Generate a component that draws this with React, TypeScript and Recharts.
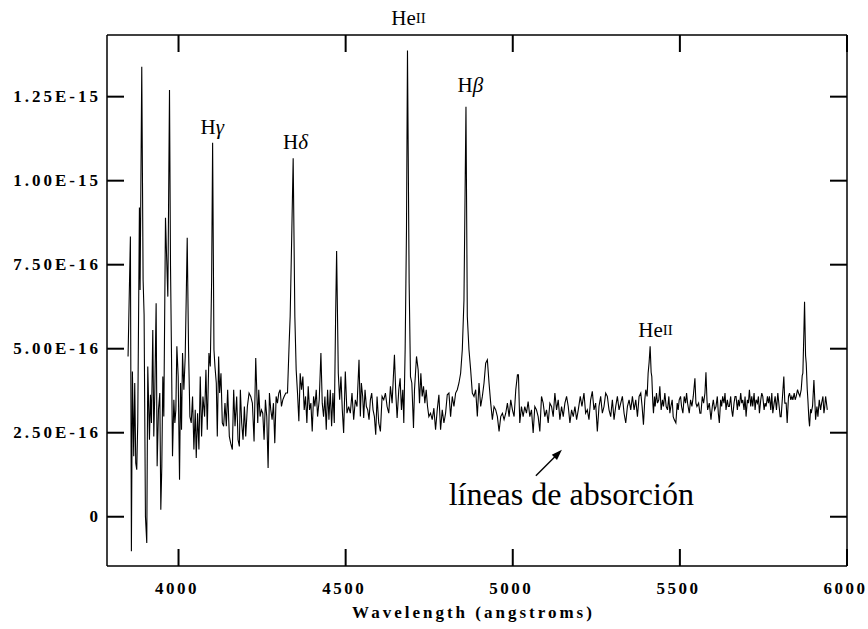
import React from 'react';
import { LineChart, Line, XAxis, YAxis, ReferenceDot } from 'recharts';

// Flux in units of 1e-16 erg/s/cm2/A, wavelength in angstroms
const blueSpectrum: [number, number][] = [
  [3849, 4.77], [3856, 8.34], [3859, -1.03], [3862, 4.32], [3866, 1.8], [3869, 3.98], [3872, 1.6], [3875, 1.4], [3878, 2.8], [3883, 9.2],
  [3885, 6.75], [3890, 13.39], [3894, 7.05], [3897, 6.0], [3901, 0.01], [3905, -0.78], [3908, 4.47], [3913, 2.29], [3916, 3.63], [3919, 2.79],
  [3923, 5.56], [3926, 2.39], [3929, 3.68], [3933, 6.35], [3936, 1.5], [3940, 3.18], [3944, 3.68], [3947, 0.21], [3950, 1.5], [3953, 4.17],
  [3956, 2.98], [3961, 8.9], [3964, 7.85], [3968, 6.55], [3973, 12.7], [3976, 7.47], [3979, 4.77], [3982, 1.8], [3986, 3.48], [3989, 2.79],
  [3992, 3.18], [3995, 5.07], [3999, 4.17], [4003, 1.1], [4006, 3.98], [4009, 2.59], [4012, 4.87], [4016, 3.78], [4020, 4.77], [4023, 6.5],
  [4026, 8.3], [4030, 4.97], [4034, 2.98], [4038, 2.79], [4042, 3.58], [4046, 2.0], [4050, 3.18], [4053, 1.75], [4057, 3.08], [4061, 2.0],
  [4065, 4.17], [4069, 2.39], [4073, 3.58], [4078, 2.98], [4082, 4.37], [4086, 2.59], [4091, 4.87], [4095, 4.47], [4099, 7.0], [4102, 11.13],
  [4106, 4.97], [4109, 4.47], [4113, 3.98], [4116, 2.39], [4120, 4.77], [4123, 3.68], [4127, 4.27], [4131, 2.79], [4135, 2.69], [4139, 3.38],
  [4143, 2.69], [4147, 3.78], [4152, 2.39], [4156, 2.19], [4161, 2.0], [4165, 3.78], [4169, 2.69], [4174, 3.58], [4178, 2.29], [4182, 2.09],
  [4185, 3.78], [4189, 2.79], [4193, 2.29], [4197, 3.28], [4201, 2.39], [4206, 3.28], [4211, 3.68], [4216, 3.58], [4221, 3.38], [4226, 2.24],
  [4231, 4.72], [4234, 3.78], [4237, 2.79], [4240, 3.78], [4244, 2.98], [4248, 3.18], [4252, 3.08], [4256, 2.29], [4260, 3.48], [4264, 2.98],
  [4268, 1.45], [4272, 3.68], [4276, 3.18], [4280, 2.89], [4284, 3.38], [4288, 2.19], [4292, 3.58], [4296, 3.38], [4300, 3.68], [4304, 3.78],
  [4308, 3.28], [4312, 3.48], [4316, 3.58], [4321, 3.68], [4326, 3.68], [4331, 5.16], [4334, 5.96], [4338, 8.0], [4343, 10.67], [4348, 5.96],
  [4352, 4.37], [4356, 3.68], [4360, 2.84], [4364, 4.27], [4368, 3.78], [4372, 4.17], [4376, 3.18], [4380, 3.58], [4384, 2.79], [4388, 3.88],
  [4392, 3.18], [4396, 3.38], [4400, 2.54], [4404, 3.58], [4408, 3.28], [4412, 3.78], [4416, 2.98], [4421, 3.48], [4426, 4.87], [4430, 3.38],
  [4434, 2.98], [4438, 3.58], [4442, 2.59], [4446, 3.78], [4450, 2.89], [4454, 3.78], [4458, 2.69], [4462, 3.68], [4466, 2.79], [4470, 5.96],
  [4473, 7.91], [4478, 4.27], [4482, 3.48], [4486, 4.17], [4490, 3.18], [4494, 2.49], [4499, 4.32], [4504, 3.08], [4509, 3.28],
];

const midSpectrum: [number, number][] = [
  [4514, 3.08], [4519, 3.68], [4524, 2.89], [4529, 3.48], [4534, 3.28], [4540, 4.67], [4544, 2.98], [4547, 3.98], [4551, 3.58], [4554, 2.94],
  [4558, 3.78], [4562, 3.28], [4566, 3.18], [4570, 2.89], [4574, 3.48], [4578, 3.68], [4582, 3.18], [4586, 2.98], [4590, 2.44], [4594, 3.58],
  [4599, 2.79], [4604, 2.54], [4609, 3.58], [4614, 3.48], [4619, 3.68], [4624, 3.28], [4629, 3.08], [4634, 3.88], [4639, 3.38], [4646, 4.82],
  [4650, 3.68], [4654, 2.94], [4659, 3.78], [4663, 4.12], [4667, 3.18], [4671, 3.78], [4674, 2.79], [4678, 4.97], [4682, 8.5], [4685, 13.87],
  [4690, 6.95], [4694, 4.17], [4698, 3.98], [4703, 2.64], [4706, 3.78], [4712, 4.77], [4717, 4.37], [4721, 3.38], [4725, 4.27], [4729, 3.58],
  [4733, 3.88], [4737, 3.38], [4741, 3.78], [4745, 3.28], [4749, 2.98], [4754, 3.08], [4759, 2.89], [4764, 3.23], [4769, 2.59], [4774, 3.18],
  [4779, 3.63], [4784, 2.59], [4789, 3.18], [4794, 2.79], [4799, 3.08], [4804, 3.63], [4809, 3.68], [4814, 2.98], [4819, 3.58], [4824, 3.28],
  [4829, 3.68], [4834, 3.78], [4839, 3.98], [4844, 4.27], [4849, 4.97], [4854, 6.45], [4860, 12.2], [4864, 5.96], [4869, 4.97], [4874, 4.37],
  [4879, 3.68], [4884, 3.58], [4889, 3.78], [4894, 2.98], [4899, 3.98], [4904, 3.28], [4909, 3.58], [4914, 3.98], [4919, 4.57], [4924, 4.67],
  [4929, 3.98], [4934, 3.38], [4939, 2.89], [4944, 3.28], [4949, 3.18], [4954, 2.98], [4959, 2.54], [4964, 2.98], [4969, 3.08], [4974, 2.89],
  [4979, 3.08], [4984, 3.38], [4989, 2.98], [4994, 3.48], [4999, 3.18], [5004, 2.98], [5009, 3.78], [5014, 4.22], [5017, 4.22], [5021, 2.79],
  [5026, 3.28], [5031, 2.98], [5036, 3.28], [5041, 3.08], [5046, 3.43], [5051, 2.98], [5056, 3.18], [5061, 2.49], [5066, 3.28], [5071, 3.18],
  [5076, 2.98], [5081, 2.54], [5086, 3.58], [5091, 3.38], [5096, 2.98], [5101, 3.18], [5106, 2.79], [5111, 3.38], [5116, 3.28], [5121, 2.98],
  [5126, 3.68], [5131, 3.18], [5136, 3.48], [5141, 2.89], [5146, 3.28], [5151, 2.98], [5156, 3.38], [5161, 3.58], [5166, 3.28], [5171, 2.79],
  [5176, 3.18], [5181, 2.98], [5186, 3.28], [5191, 2.89], [5196, 3.18], [5202, 3.58],
];

const redSpectrum: [number, number][] = [
  [5207, 3.28], [5213, 3.68], [5218, 3.08], [5223, 3.18], [5228, 2.89], [5233, 3.48], [5238, 3.73], [5243, 3.18], [5248, 3.38], [5253, 2.54],
  [5258, 3.28], [5263, 3.58], [5268, 3.08], [5273, 3.28], [5278, 3.68], [5283, 3.58], [5288, 3.18], [5293, 2.98], [5298, 3.48], [5303, 2.89],
  [5308, 3.28], [5313, 3.58], [5318, 3.18], [5323, 3.38], [5328, 3.58], [5333, 3.08], [5338, 2.79], [5343, 3.28], [5348, 3.48], [5353, 3.18],
  [5358, 3.58], [5363, 3.18], [5368, 3.48], [5373, 2.98], [5378, 3.58], [5383, 3.68], [5387, 3.28], [5391, 2.74], [5395, 3.48], [5398, 3.78],
  [5402, 3.58], [5405, 4.27], [5408, 4.6], [5411, 5.07], [5414, 4.3], [5416, 4.17], [5419, 3.4], [5421, 3.08], [5424, 3.58], [5426, 3.28],
  [5430, 3.68], [5433, 3.38], [5437, 3.48], [5440, 3.88], [5444, 3.18], [5448, 3.48], [5451, 3.28], [5455, 3.68], [5459, 3.28], [5463, 3.18],
  [5467, 3.58], [5470, 3.08], [5473, 3.28], [5477, 3.48], [5480, 2.98], [5483, 2.89], [5488, 2.79], [5492, 3.38], [5495, 3.18], [5498, 3.48],
  [5502, 3.58], [5505, 3.28], [5509, 3.08], [5513, 3.58], [5517, 3.38], [5520, 3.68], [5523, 3.38], [5528, 3.08], [5532, 3.48], [5536, 3.28],
  [5540, 3.58], [5545, 4.12], [5548, 3.38], [5551, 3.28], [5556, 3.38], [5560, 3.08], [5563, 3.08], [5567, 3.58], [5571, 3.38], [5575, 3.68],
  [5578, 4.3], [5581, 3.48], [5583, 3.18], [5588, 3.38], [5593, 2.89], [5597, 3.28], [5600, 3.48], [5604, 3.18], [5608, 3.28], [5612, 3.58],
  [5615, 3.08], [5618, 2.79], [5622, 3.48], [5625, 3.28], [5628, 3.58], [5632, 3.38], [5635, 3.68], [5638, 3.18], [5642, 3.48], [5645, 3.28],
  [5648, 3.28], [5652, 3.58], [5655, 3.18], [5658, 2.98], [5662, 3.38], [5665, 3.58], [5668, 3.58], [5672, 3.18], [5675, 3.48], [5678, 3.28],
  [5682, 3.68], [5685, 3.38], [5688, 3.48], [5692, 3.18], [5695, 3.58], [5698, 2.98], [5702, 3.48], [5705, 3.38], [5708, 3.78], [5712, 3.28],
  [5715, 3.58], [5718, 3.28], [5722, 3.68], [5725, 3.18], [5728, 3.48], [5732, 3.38], [5735, 3.58], [5738, 3.08], [5742, 3.48], [5745, 3.68],
  [5748, 3.58], [5752, 3.18], [5755, 3.38], [5758, 3.28], [5762, 3.58], [5765, 3.38], [5768, 3.58], [5772, 3.18], [5775, 3.68], [5778, 3.08],
  [5782, 3.38], [5785, 3.58], [5789, 3.18], [5793, 3.68], [5797, 3.28], [5800, 2.98], [5803, 2.98], [5807, 3.58], [5811, 4.17], [5814, 3.38],
  [5818, 3.38], [5821, 2.79], [5825, 3.58], [5828, 3.68], [5832, 3.48], [5835, 3.58], [5838, 3.48], [5842, 3.68], [5845, 3.48], [5848, 3.58],
  [5852, 3.78], [5855, 3.68], [5859, 3.58], [5863, 3.78], [5866, 4.2], [5868, 4.27], [5871, 5.5], [5873, 6.4], [5876, 4.8], [5878, 4.57],
  [5881, 3.8], [5883, 3.48], [5886, 2.9], [5888, 2.69], [5891, 3.2], [5893, 3.08], [5897, 3.3], [5901, 4.07], [5904, 3.4], [5906, 2.89],
  [5910, 3.28], [5913, 2.98], [5917, 3.48], [5921, 3.18], [5924, 3.38], [5928, 3.58], [5931, 3.08], [5933, 3.23], [5936, 3.58], [5938, 3.43],
  [5941, 3.18],
];

const xTicks = [4000, 4500, 5000, 5500, 6000];
const yTicks = [0, 2.5, 5, 7.5, 10, 12.5];
const yTickLabels = ['0', '2.50E-16', '5.00E-16', '7.50E-16', '1.00E-15', '1.25E-15'];
const xDomain: [number, number] = [3786, 6000];
const yDomain: [number, number] = [-1.466, 14.335];
const xTitle = 'Wavelength (angstroms)';

const lineLabels = [
  { base: 'H', suffix: 'γ', style: 'greek', w: 4101, f: 11.61 },
  { base: 'H', suffix: 'δ', style: 'greek', w: 4350, f: 11.16 },
  { base: 'H', suffix: 'β', style: 'greek', w: 4873, f: 12.85 },
  { base: 'He', suffix: 'II', style: 'ion', w: 4688, f: 14.84 },
  { base: 'He', suffix: 'II', style: 'ion', w: 5427, f: 5.56 },
];
const absorptionText = 'líneas de absorción';
const absorptionPos = { w: 5175, f: 0.68 };
const arrowTip = { w: 5147, f: 1.99 };

const data = [...blueSpectrum, ...midSpectrum, ...redSpectrum].map(([w, f]) => ({ w, f }));

const tickFont = '"Liberation Serif", "Times New Roman", serif';
const annoFont = '"Liberation Serif", "Times New Roman", serif';
const TICK_LEN = 17;
const LS = 3;
const XLS = 2.5;
const TICK_FS = 17;

const BottomTick = (props: any) => {
  const { x, y, payload } = props;
  return (
    <g>
      <line x1={x} x2={x} y1={y} y2={y - TICK_LEN} stroke="#000" strokeWidth={2} />
      <text x={x - 1.5} y={y + 22} textAnchor="middle" dominantBaseline="central"
        fontFamily={tickFont} fontWeight={700} fontSize={TICK_FS} letterSpacing={XLS} fill="#000">
        {payload.value}
      </text>
    </g>
  );
};

const TopTick = (props: any) => {
  const { x, y } = props;
  return <line x1={x} x2={x} y1={y} y2={y + TICK_LEN} stroke="#000" strokeWidth={2} />;
};

const LeftTick = (props: any) => {
  const { x, y, payload } = props;
  const idx = yTicks.indexOf(payload.value);
  return (
    <g>
      <line x1={x} x2={x + TICK_LEN} y1={y} y2={y} stroke="#000" strokeWidth={2} />
      <text x={x - 9 + LS} y={y} textAnchor="end" dominantBaseline="central"
        fontFamily={tickFont} fontWeight={700} fontSize={TICK_FS} letterSpacing={LS} fill="#000">
        {idx >= 0 ? yTickLabels[idx] : payload.value}
      </text>
    </g>
  );
};

const RightTick = (props: any) => {
  const { x, y } = props;
  return <line x1={x} x2={x - TICK_LEN} y1={y} y2={y} stroke="#000" strokeWidth={2} />;
};

const makeLineLabel = (base: string, suffix: string, style: string) => (props: any) => {
  const vb = props.viewBox || {};
  const cx = (vb.x || 0) + (vb.width || 0) / 2;
  const cy = (vb.y || 0) + (vb.height || 0) / 2;
  return (
    <text x={cx} y={cy} textAnchor="middle" dominantBaseline="central"
      fontFamily={annoFont} fontSize={21} fill="#000">
      {base}
      {style === 'greek'
        ? <tspan fontStyle="italic">{suffix}</tspan>
        : <tspan fontSize={15}>{suffix}</tspan>}
    </text>
  );
};

const AbsorptionLabel = (props: any) => {
  const vb = props.viewBox || {};
  const cx = (vb.x || 0) + (vb.width || 0) / 2;
  const cy = (vb.y || 0) + (vb.height || 0) / 2;
  return (
    <text x={cx} y={cy} textAnchor="middle" dominantBaseline="central"
      fontFamily={annoFont} fontSize={32} fill="#000">
      {absorptionText}
    </text>
  );
};

const ArrowLabel = (props: any) => {
  const vb = props.viewBox || {};
  const x = (vb.x || 0) + (vb.width || 0) / 2;
  const y = (vb.y || 0) + (vb.height || 0) / 2;
  const bx = x - 7.5;
  const by = y + 7.5;
  return (
    <g>
      <line x1={x - 26} y1={y + 26} x2={x - 6} y2={y + 6} stroke="#000" strokeWidth={1.4} />
      <polygon points={`${x},${y} ${bx - 2.6},${by - 2.6} ${bx + 2.6},${by + 2.6}`} fill="#000" />
    </g>
  );
};

const TitleLabel = (props: any) => {
  const vb = props.viewBox || {};
  const cx = (vb.x || 0) + (vb.width || 0) / 2 - 5;
  const y = (vb.y || 0) + 46;
  return (
    <text x={cx + LS / 2} y={y} textAnchor="middle" dominantBaseline="central"
      fontFamily={tickFont} fontWeight={700} fontSize={TICK_FS} letterSpacing={LS} fill="#000">
      {xTitle}
    </text>
  );
};

export default function App() {
  return (
    <div style={{ width: 868, height: 629, background: '#fff' }}>
      <style>{'body{margin:0;overflow:hidden;}'}</style>
      <LineChart width={868} height={629} data={data}
        margin={{ top: 34, right: 20, bottom: 13, left: 0 }}>
        <XAxis xAxisId="bottom" dataKey="w" type="number" domain={xDomain} ticks={xTicks}
          allowDataOverflow interval={0} tickSize={0} tickMargin={0} tickLine={false}
          axisLine={{ stroke: '#000', strokeWidth: 1.5 }} tick={<BottomTick />} height={50}
          label={{ content: <TitleLabel /> } as any} />
        <XAxis xAxisId="top" orientation="top" dataKey="w" type="number" domain={xDomain} ticks={xTicks}
          allowDataOverflow interval={0} tickSize={0} tickMargin={0} tickLine={false}
          axisLine={{ stroke: '#000', strokeWidth: 1.5 }} tick={<TopTick />} height={1} />
        <YAxis yAxisId="left" type="number" domain={yDomain} ticks={yTicks} allowDataOverflow
          interval={0} tickSize={0} tickMargin={0} tickLine={false} width={107}
          axisLine={{ stroke: '#000', strokeWidth: 1.5 }} tick={<LeftTick />} />
        <YAxis yAxisId="right" orientation="right" type="number" domain={yDomain} ticks={yTicks}
          allowDataOverflow interval={0} tickSize={0} tickMargin={0} tickLine={false} width={1}
          axisLine={{ stroke: '#000', strokeWidth: 1.5 }} tick={<RightTick />} />
        <Line xAxisId="bottom" yAxisId="left" dataKey="f" type="linear" stroke="#000"
          strokeWidth={1.1} dot={false} isAnimationActive={false} />
        {lineLabels.map((l, i) => (
          <ReferenceDot key={i} xAxisId="bottom" yAxisId="left" x={l.w} y={l.f} r={0}
            fill="none" stroke="none" ifOverflow="visible"
            label={makeLineLabel(l.base, l.suffix, l.style)} />
        ))}
        <ReferenceDot xAxisId="bottom" yAxisId="left" x={absorptionPos.w} y={absorptionPos.f} r={0}
          fill="none" stroke="none" ifOverflow="visible" label={AbsorptionLabel} />
        <ReferenceDot xAxisId="bottom" yAxisId="left" x={arrowTip.w} y={arrowTip.f} r={0}
          fill="none" stroke="none" ifOverflow="visible" label={ArrowLabel} />
      </LineChart>
    </div>
  );
}
